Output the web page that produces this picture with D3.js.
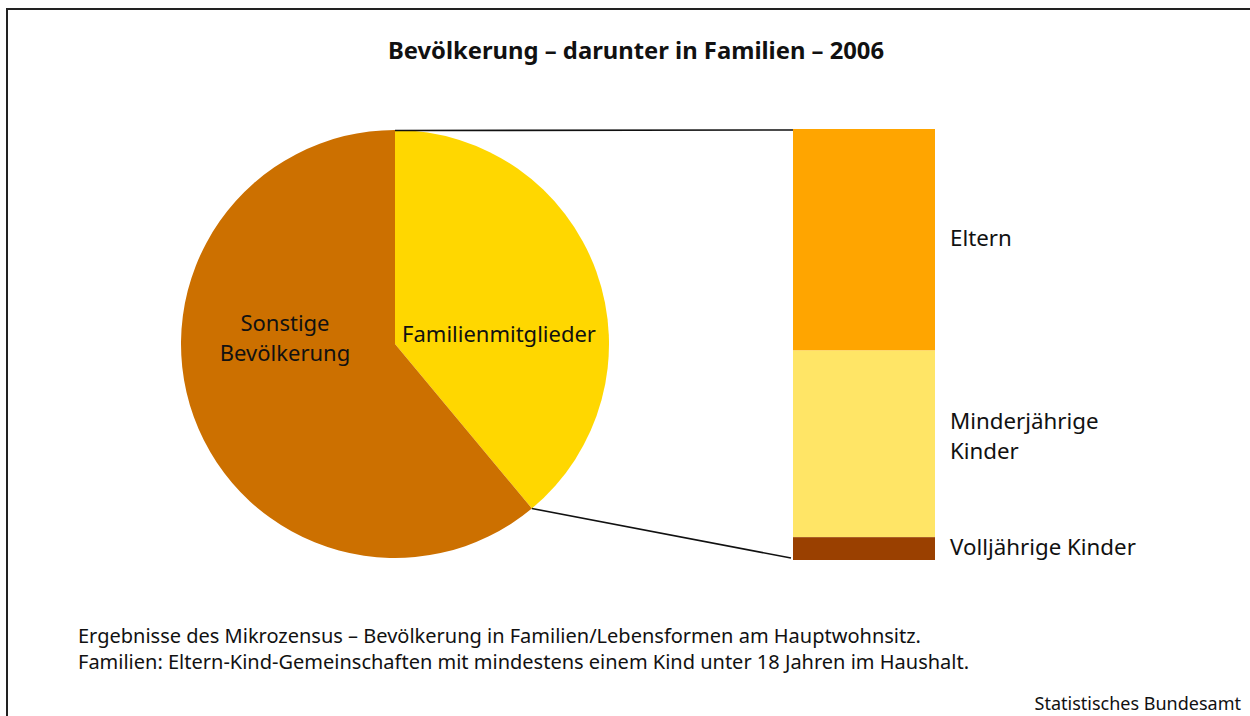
<!DOCTYPE html>
<html>
<head>
<meta charset="utf-8">
<script src="https://cdn.jsdelivr.net/npm/d3@7"></script>
<style>
    body { margin: 0; background: #fff; }
    svg { display: block; font-family: 'Noto Sans', sans-serif; }
</style>
</head>
<body>
<svg id="chart" width="1250" height="716"></svg>
<script>
// Bevölkerung 2006, Mio. (aus dem Bild geschätzt)
const pieCategories = ['Familienmitglieder', 'Sonstige Bevölkerung'];
const pieValues = [32.1, 50.3];
const pieColors = ['#ffd700', '#cc7000'];

const barCategories = ['Eltern', 'Minderjährige Kinder', 'Volljährige Kinder'];
const barValues = [16.5, 13.9, 1.7];
const barColors = ['#ffa500', '#ffe566', '#9a4000'];
const barLabelLines = [['Eltern'], ['Minderjährige', 'Kinder'], ['Volljährige Kinder']];

const title = 'Bevölkerung – darunter in Familien – 2006';
const notes = [
    'Ergebnisse des Mikrozensus – Bevölkerung in Familien/Lebensformen am Hauptwohnsitz.',
    'Familien: Eltern-Kind-Gemeinschaften mit mindestens einem Kind unter 18 Jahren im Haushalt.'
];
const source = 'Statistisches Bundesamt';

const svg = d3.select('#chart');

// Rahmen
svg.append('path')
    .attr('d', 'M7,716 V9 H1250')
    .attr('fill', 'none')
    .attr('stroke', '#222')
    .attr('stroke-width', 2);

svg.append('text')
    .attr('x', 636)
    .attr('y', 59)
    .attr('text-anchor', 'middle')
    .style('font-size', '23.8px')
    .style('font-weight', 'bold')
    .attr('fill', '#111')
    .text(title);

// Kreis
const cx = 395, cy = 344, r = 214;

const pie = d3.pie().sort(null).value(d => d);
const arcs = pie(pieValues);
const arc = d3.arc().innerRadius(0).outerRadius(r);

const gPie = svg.append('g').attr('transform', `translate(${cx},${cy})`);

gPie.selectAll('path')
    .data(arcs)
    .enter()
    .append('path')
    .attr('d', arc)
    .attr('fill', (d, i) => pieColors[i]);

// Säule
const x0 = 793, barW = 142;
const total = d3.sum(barValues);
const y = d3.scaleLinear().domain([0, total]).range([129, 560]);

let acc = 0;
const segs = barValues.map(function (v, i) {
    const s = {i: i, y0: acc, y1: acc + v};
    acc += v;
    return s;
});

svg.append('g')
    .selectAll('rect')
    .data(segs)
    .enter()
    .append('rect')
    .attr('x', x0)
    .attr('y', d => y(d.y0))
    .attr('width', barW)
    .attr('height', d => y(d.y1) - y(d.y0))
    .attr('fill', d => barColors[d.i]);

// Verbindungslinien
const famArc = arcs[0];
const pt = a => [cx + r * Math.sin(a), cy - r * Math.cos(a)];
const pStart = pt(famArc.startAngle), pEnd = pt(famArc.endAngle);

svg.append('line')
    .attr('x1', pStart[0]).attr('y1', pStart[1] + 0.5)
    .attr('x2', x0).attr('y2', y(0) + 1)
    .attr('stroke', '#111').attr('stroke-width', 1.6);

svg.append('line')
    .attr('x1', pEnd[0]).attr('y1', pEnd[1])
    .attr('x2', x0 - 2).attr('y2', y(total) - 2)
    .attr('stroke', '#111').attr('stroke-width', 1.6);

// Beschriftung Kreis
const pieLabelStyle = function (t) {
    t.attr('text-anchor', 'middle')
        .style('font-size', '22px')
        .attr('fill', '#111');
};

svg.append('text')
    .attr('x', 499).attr('y', 342)
    .call(pieLabelStyle)
    .text(pieCategories[0]);

const sonst = svg.append('text')
    .attr('x', 285).attr('y', 331)
    .call(pieLabelStyle);
pieCategories[1].split(' ').forEach(function (w, i) {
    sonst.append('tspan').attr('x', 285).attr('dy', i ? 30 : 0).text(w);
});

// Beschriftung Säule
const lh = 30;
segs.forEach(function (s) {
    const lines = barLabelLines[s.i];
    const mid = (y(s.y0) + y(s.y1)) / 2;
    const t = svg.append('text')
        .attr('x', 950)
        .attr('y', mid - (lines.length - 1) * (lh / 2 + 6) + 6)
        .style('font-size', '22.3px')
        .attr('fill', '#111');
    lines.forEach(function (l, k) {
        t.append('tspan').attr('x', 950).attr('dy', k ? lh : 0).text(l);
    });
});

// Fußnoten
notes.forEach(function (n, i) {
    svg.append('text')
        .attr('x', 78)
        .attr('y', 643 + i * 26)
        .style('font-size', '20px')
        .attr('fill', '#111')
        .text(n);
});

svg.append('text')
    .attr('x', 1241)
    .attr('y', 710)
    .attr('text-anchor', 'end')
    .style('font-size', '18px')
    .attr('fill', '#111')
    .text(source);
</script>
</body>
</html>
